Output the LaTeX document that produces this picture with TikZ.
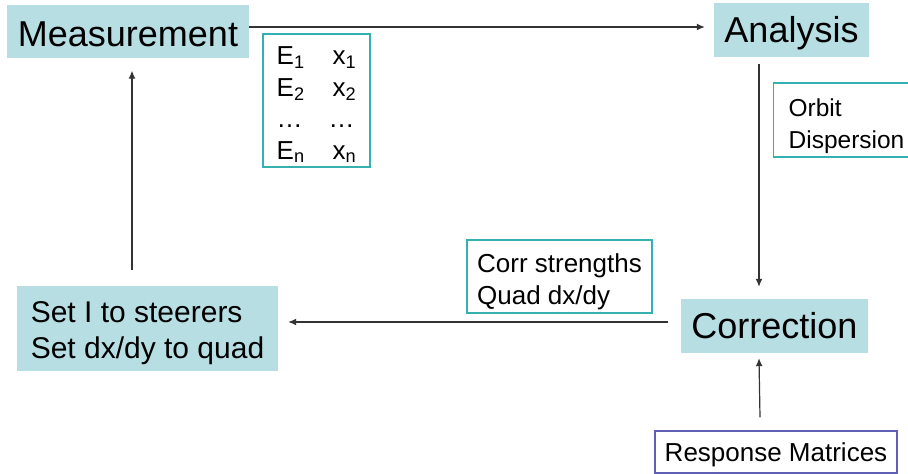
\documentclass[tikz,border=0pt]{standalone}
\usepackage{fontspec}
\setmainfont{Liberation Sans}
\usetikzlibrary{arrows.meta,calc}
\definecolor{boxfill}{HTML}{B7DEE3}
\definecolor{tealedge}{HTML}{35B0B0}
\definecolor{violetedge}{HTML}{5F5FB5}
\definecolor{wire}{HTML}{333333}
% set a block of left-aligned lines, lowered inside its box without changing the box size
\newcommand\dropbox[2]{\raisebox{-#1}[\height][\depth]{\begin{tabular}{@{}l@{}}#2\end{tabular}}}
\begin{document}
\begin{tikzpicture}[x=1pt,y=-1pt,
  stage/.style={fill=boxfill, inner sep=0pt, font=\fontsize{36}{40}\selectfont},
  note/.style={draw=tealedge, line width=1.3pt, fill=white, inner sep=0pt,
    font=\fontsize{26}{32}\selectfont},
  arr/.style={-{Latex[length=8pt,width=7pt]}, line width=1.2pt, draw=wire}]
\useasboundingbox (0,0) rectangle (908,474);
\fill[white] (0,0) rectangle (908,474);

% process stages
\node[stage, minimum width=242pt, minimum height=53pt] (meas) at (128,31) {\dropbox{7pt}{Measurement}};
\node[stage, minimum width=155pt, minimum height=54pt] (ana) at (791.5,30) {\dropbox{4pt}{Analysis}};
\node[stage, minimum width=187pt, minimum height=54pt] (corr) at (774.5,326) {\dropbox{4pt}{Correction}};
\node[stage, minimum width=261pt, minimum height=85pt,
      font=\fontsize{30}{36}\selectfont] (set) at (147.5,328.5)
  {\dropbox{5pt}{Set I to steerers\\Set dx/dy to quad}};

% annotations
\node[note, minimum width=107pt, minimum height=133pt, font=\fontsize{26}{31.5}\selectfont]
  (data) at (316.5,100.5)
  {\dropbox{5pt}{\makebox[56pt][l]{E\textsubscript{1}}x\textsubscript{1}\\
   \makebox[56pt][l]{E\textsubscript{2}}x\textsubscript{2}\\
   \makebox[52pt][l]{…}…\\
   \makebox[56pt][l]{E\textsubscript{n}}x\textsubscript{n}}};
\node[note, anchor=west, inner xsep=15pt, text width=125pt, minimum height=74pt,
      font=\fontsize{24.5}{31.5}\selectfont]
  (obs) at (773,120) {\dropbox{6pt}{Orbit\\Dispersion}};
\node[note, minimum width=185pt, minimum height=73pt] (kick) at (559.5,276.5)
  {\dropbox{6pt}{Corr strengths\\Quad dx/dy}};
\node[note, draw=violetedge, minimum width=242pt, minimum height=42pt] (resp) at (776,452)
  {\dropbox{3pt}{Response Matrices}};

% flow
\draw[arr] ([yshift=4pt]meas.east) -- ($(ana.west |- meas.east)+(-9,-4)$);
\draw[arr] ([xshift=-32.5pt,yshift=-7pt]ana.south) -- ([xshift=-15.5pt,yshift=12pt]corr.north);
\draw[arr] ([xshift=-13pt,yshift=4pt]corr.west) -- ([xshift=10pt,yshift=6.5pt]set.east);
\draw[arr] ([xshift=-15.5pt,yshift=16pt]set.north) -- ([xshift=4pt,yshift=-13pt]meas.south);
\draw[arr] ([xshift=-16pt,yshift=13pt]resp.north) -- ([xshift=-15.5pt,yshift=-5pt]corr.south);
\end{tikzpicture}
\end{document}
